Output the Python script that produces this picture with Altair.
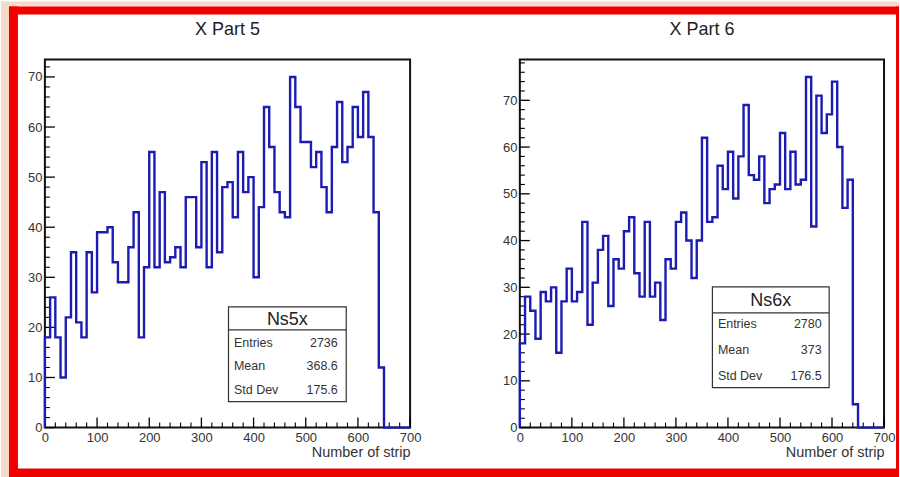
import altair as alt
import pandas as pd

# ---------------- data ----------------
bin_width = 10
ns5x_counts = [18, 26, 18, 10, 22, 35, 21, 18, 35, 27,
               39, 39, 40, 33, 29, 29, 36, 43, 18, 32,
               55, 32, 47, 33, 34, 36, 32, 46, 46, 36,
               53, 32, 55, 35, 48, 49, 42, 55, 47, 50,
               30, 44, 64, 56, 47, 43, 42, 70, 64, 57,
               57, 52, 55, 48, 43, 56, 65, 53, 56, 64,
               58, 67, 58, 43, 12, 0, 0, 0, 0, 0]
ns6x_counts = [18, 28, 25, 19, 29, 27, 30, 16, 27, 34,
               27, 29, 44, 22, 31, 38, 41, 26, 36, 34,
               42, 45, 33, 28, 44, 28, 31, 23, 36, 34,
               44, 46, 40, 32, 40, 62, 44, 45, 56, 51,
               59, 49, 58, 69, 54, 53, 58, 48, 51, 52,
               63, 51, 59, 52, 53, 75, 43, 71, 63, 67,
               74, 60, 47, 53, 5, 0, 0, 0, 0, 0]

panel_titles = ["X Part 5", "X Part 6"]
stat_names = ["Ns5x", "Ns6x"]
stat_labels = ["Entries", "Mean", "Std Dev"]
stat_values5 = ["2736", "368.6", "175.6"]
stat_values6 = ["2780", "373", "176.5"]
x_title = "Number of strip"

x_major = [0, 100, 200, 300, 400, 500, 600, 700]
x_minor = [v for v in range(0, 701, 20) if v % 100 != 0]
y_major = [0, 10, 20, 30, 40, 50, 60, 70]
y_max = [73.5, 78.75]

# ---------------- style ----------------
FONT = "Liberation Sans"
BLUE = "#1c1cb4"
RED = "#f00000"
PEACH = "#f6dcc8"
H = 369

X_AXIS = alt.Axis(values=x_major, ticks=False, domain=False, grid=False,
                  labelPadding=4, labelFontSize=13, labelColor="#333", labelFont=FONT,
                  title=x_title, titleAnchor="end", titleFontSize=14.5,
                  titleFontWeight="normal", titleFont=FONT, titleColor="#333",
                  titlePadding=1, labelFlush=False)
Y_AXIS = alt.Axis(values=y_major, ticks=False, domain=False, grid=False,
                  labelPadding=3, labelFontSize=13, labelColor="#333", labelFont=FONT,
                  title=None, labelFlush=False)


def hist_frame(counts):
    xs = [0] + [i * bin_width for i in range(len(counts))] + [len(counts) * bin_width]
    ys = [0] + list(counts) + [counts[-1]]
    return pd.DataFrame({"i": list(range(len(xs))), "x": xs, "count": ys})


def one_row():
    return pd.DataFrame({"a": [0]})


def panel(counts, ymax, W, title, sname, svals, box, decorate=False):
    xs = alt.Scale(domain=[0, 700], nice=False, zero=False)
    ys = alt.Scale(domain=[0, ymax], nice=False, zero=True)
    y_minor = [v for v in range(0, int(ymax) + 1, 2) if v % 10 != 0]

    hist = alt.Chart(hist_frame(counts)).mark_line(
        interpolate="step-after", color=BLUE, strokeWidth=2.4
    ).encode(
        x=alt.X("x:Q", scale=xs, axis=X_AXIS, title=x_title),
        y=alt.Y("count:Q", scale=ys, axis=Y_AXIS, title=None),
        order="i:Q",
    )

    xt_major = alt.Chart(pd.DataFrame({"t": x_major})).mark_rule(
        color="black", strokeWidth=1.3).encode(
        x=alt.X("t:Q", scale=xs, axis=X_AXIS, title=x_title),
        y=alt.value(H), y2=alt.value(H - 10))
    xt_minor = alt.Chart(pd.DataFrame({"t": x_minor})).mark_rule(
        color="black", strokeWidth=1.1).encode(
        x=alt.X("t:Q", scale=xs, axis=X_AXIS, title=x_title),
        y=alt.value(H), y2=alt.value(H - 5))
    yt_major = alt.Chart(pd.DataFrame({"t": y_major})).mark_rule(
        color="black", strokeWidth=1.3).encode(
        y=alt.Y("t:Q", scale=ys, axis=Y_AXIS, title=None),
        x=alt.value(0), x2=alt.value(10))
    yt_minor = alt.Chart(pd.DataFrame({"t": y_minor})).mark_rule(
        color="black", strokeWidth=1.1).encode(
        y=alt.Y("t:Q", scale=ys, axis=Y_AXIS, title=None),
        x=alt.value(0), x2=alt.value(5))

    bx0, bx1, by0, by1, hline, hx, hy, rows, lx, vx = box
    layers = []
    if decorate:
        # page background strips and the red frame around the figure
        for (a, b, c, d, col) in [(-44, 856, -58, -53, PEACH), (-44, -36, -58, 419, PEACH),
                                  (-36, 856, -53, -45, RED), (-36, -27, -53, 419, RED),
                                  (-36, 856, 410, 419, RED), (853, 856, -53, 419, RED)]:
            layers.append(alt.Chart(one_row()).mark_rect(color=col).encode(
                x=alt.value(a), x2=alt.value(b), y=alt.value(c), y2=alt.value(d)))
    layers += [xt_minor, xt_major, yt_minor, yt_major, hist]

    # panel title
    layers.append(alt.Chart(pd.DataFrame({"title": [title]})).mark_text(
        font=FONT, fontSize=18, color="#222", align="center", baseline="middle").encode(
        text="title:N", x=alt.value(W / 2), y=alt.value(-29)))

    # statistics box
    layers.append(alt.Chart(one_row()).mark_rect(
        fill="white", stroke="#333", strokeWidth=1.2).encode(
        x=alt.value(bx0), x2=alt.value(bx1), y=alt.value(by0), y2=alt.value(by1)))
    layers.append(alt.Chart(one_row()).mark_rule(color="#333", strokeWidth=1.2).encode(
        x=alt.value(bx0), x2=alt.value(bx1), y=alt.value(hline)))
    layers.append(alt.Chart(pd.DataFrame({"name": [sname]})).mark_text(
        font=FONT, fontSize=18, color="#222", align="center", baseline="middle").encode(
        text="name:N", x=alt.value(hx), y=alt.value(hy)))
    for k in range(3):
        layers.append(alt.Chart(pd.DataFrame({"lab": [stat_labels[k]]})).mark_text(
            font=FONT, fontSize=12.5, color="#333", align="left", baseline="middle").encode(
            text="lab:N", x=alt.value(lx), y=alt.value(rows[k])))
        layers.append(alt.Chart(pd.DataFrame({"val": [svals[k]]})).mark_text(
            font=FONT, fontSize=12.5, color="#333", align="right", baseline="middle").encode(
            text="val:N", x=alt.value(vx), y=alt.value(rows[k])))

    return alt.layer(*layers).properties(width=W, height=H)


left = panel(ns5x_counts, y_max[0], 366, panel_titles[0], stat_names[0], stat_values5,
             (184, 302, 248, 343, 271, 243, 261, [284.5, 307, 331], 189.5, 293.5),
             decorate=True)
right = panel(ns6x_counts, y_max[1], 365, panel_titles[1], stat_names[1], stat_values6,
              (193, 310, 228, 329, 254, 251.5, 242, [265.5, 291, 317], 198.5, 302.5))

chart = alt.hconcat(left, right, spacing=110, bounds="flush").properties(
    padding=0, background="white"
).configure_view(stroke="#111", strokeWidth=2)

chart.save("out.html", embed_options={"renderer": "svg", "actions": False})
